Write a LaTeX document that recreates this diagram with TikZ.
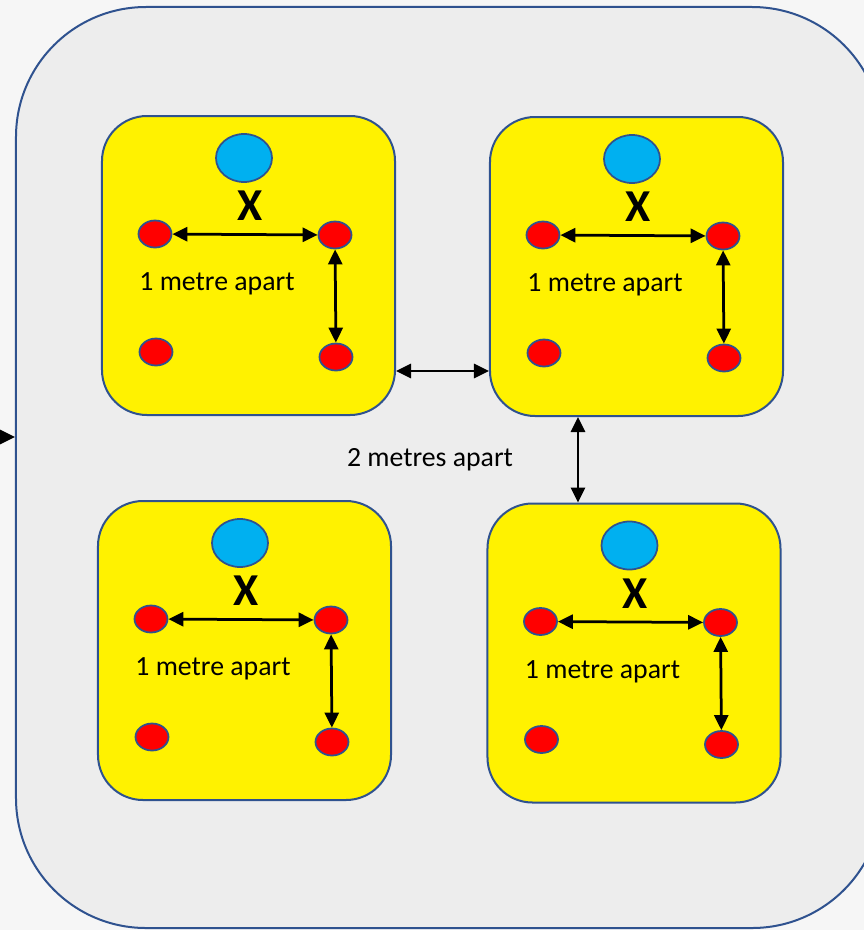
\documentclass[tikz,border=0pt]{standalone}
\usepackage{fontspec}
\setmainfont{Carlito}
\usetikzlibrary{arrows.meta, positioning, shapes.geometric}
\definecolor{edgeblue}{HTML}{2F528F}
\definecolor{pale}{HTML}{EDEDED}
\definecolor{sky}{HTML}{00B0F0}

\begin{document}
\begin{tikzpicture}[x=0.2mm, y=-0.2mm]

    % Define style for boxes
    \tikzstyle{hall} = [rectangle, rounded corners=26mm, minimum width=173.2mm, minimum height=184.2mm, draw=edgeblue, line width=0.4mm, fill=pale]
    \tikzstyle{zone} = [rectangle, rounded corners=9mm, minimum width=58.6mm, minimum height=59.8mm, draw=edgeblue, line width=0.4mm, fill=yellow, inner sep=0pt]
    \tikzstyle{pod} = [ellipse, minimum width=11.2mm, minimum height=9.6mm, draw=edgeblue, line width=0.35mm, fill=sky, inner sep=0pt]
    \tikzstyle{seat} = [ellipse, minimum width=6.6mm, minimum height=5.4mm, draw=edgeblue, line width=0.35mm, fill=red, inner sep=0pt]
    \tikzstyle{gap} = [>={Triangle[length=3mm, width=2.8mm]}, <->, line width=0.55mm]
    \tikzstyle{note} = [font=\fontsize{15.8}{19}\selectfont, inner sep=0pt]

    % Background
    \fill[gray!7] (0,0) rectangle (864,930);
    \useasboundingbox (0,0) rectangle (864,930);

    % Nodes
    \node (hall) [hall] at (449,467.5) {};
    \coordinate (feed) at (-30,437);

    \foreach \z/\cx/\cy in {za/248.5/265.5, zb/636.5/266.5, zc/244.5/650.5, zd/634/653} {
        \node (\z) [zone] at (\cx,\cy) {};
        \node (\z-pod) [pod] at ([shift={(143,43)}]\z.north west) {};
        \node (\z-x) [font=\bfseries\fontsize{26}{26}\selectfont, inner sep=0pt] at ([shift={(149,91)}]\z.north west) {X};
        \node (\z-nw) [seat] at ([shift={(54,119)}]\z.north west) {};
        \node (\z-ne) [seat] at ([shift={(234,120)}]\z.north west) {};
        \node (\z-sw) [seat] at ([shift={(55,237)}]\z.north west) {};
        \node (\z-se) [seat] at ([shift={(235,242)}]\z.north west) {};
        \node (\z-txt) [note] at ([shift={(116,169)}]\z.north west) {1 metre apart};
        \draw[gap] (\z-nw) -- (\z-ne);
        \draw[gap] (\z-ne) -- (\z-se);
    }

    \node (apart) [note] at (430,460) {2 metres apart};
    \coordinate (across) at (442,371);
    \coordinate (down) at (578,460);

    % Lines
    \draw[-{Triangle[length=3mm, width=2.8mm]}, line width=0.55mm] (feed) -- (feed -| hall.west);
    \draw[gap] (across -| za.east) -- (across -| zb.west);
    \draw[gap] (down |- zb.south) -- (down |- zd.north);

\end{tikzpicture}
\end{document}
